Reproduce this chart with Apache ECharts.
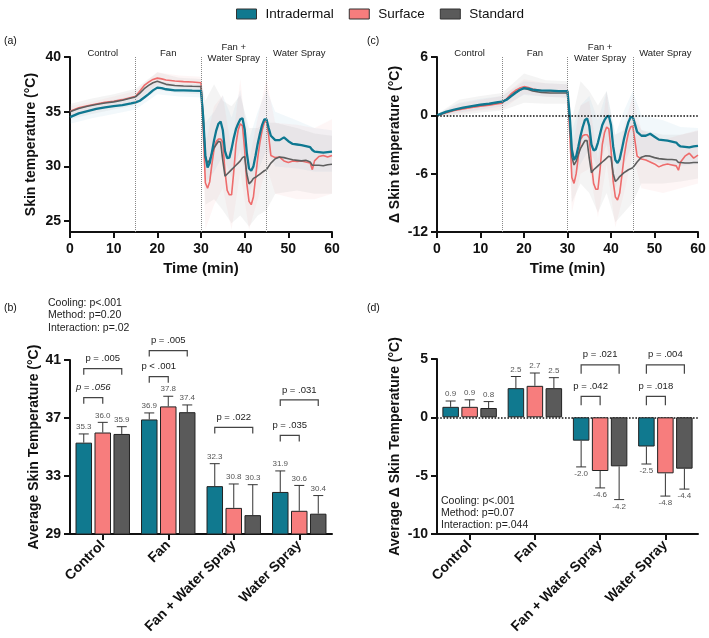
<!DOCTYPE html>
<html>
<head>
<meta charset="utf-8">
<title>Skin temperature</title>
<script src="https://cdn.jsdelivr.net/npm/echarts@6/dist/echarts.min.js"></script>
<style>
  html, body { margin: 0; padding: 0; background: #fff; }
  #chart { width: 709px; height: 638px; }
</style>
</head>
<body>
<div id="chart"></div>
<script>
// ---- data ----
const methods = ['Intradermal', 'Surface', 'Standard']
const barColors = ['#10798F', '#F77D7D', '#5A5A5A']
const lineColors = ['#0F7891', '#EE6C6C', '#5E5E5E']
const bandColors = ['rgba(110,175,210,0.09)', 'rgba(245,130,130,0.07)', 'rgba(150,150,150,0.10)']
const conditions = ['Control', 'Fan', 'Fan + Water Spray', 'Water Spray']
const phaseNames = ['Control', 'Fan', 'Fan +\nWater Spray', 'Water Spray']
const phaseMid = [7.5, 22.5, 37.5, 52.5]
const phaseBounds = [15, 30, 45]

// time (min) for the mean lines
const time = [0, 2, 4, 6, 8, 10, 12, 14, 15, 16, 17, 18, 19, 20, 21, 22, 24, 26, 28, 30,
  30.5, 31, 31.5, 32, 32.5, 33, 33.5, 34, 34.5, 35, 35.5, 36, 36.5, 37, 37.5, 38, 38.5, 39, 39.5, 40,
  40.5, 41, 41.5, 42, 42.5, 43, 43.5, 44, 44.5, 45, 45.5, 46, 47, 48, 49, 50, 51, 52, 53, 54, 55, 55.5,
  56, 57, 58, 59, 60]

// (a) skin temperature, °C
const skinIntradermal = [34.5, 34.85, 35.05, 35.25, 35.4, 35.5, 35.6, 35.75, 35.85, 36.0, 36.3, 36.6, 36.95, 37.2, 37.15, 37.05, 36.95, 36.95, 36.92, 36.9,
  34.5, 31.0, 29.9, 30.3, 31.3, 32.4, 33.3, 33.9, 34.1, 33.3, 31.4, 30.75, 30.8, 31.6, 32.6, 33.4, 33.9, 34.3, 34.4, 33.4,
  31.2, 29.8, 29.6, 30.0, 31.0, 32.1, 33.0, 33.8, 34.3, 34.3, 33.5, 32.8, 32.4, 32.4, 32.65, 32.3, 32.05, 32.0, 31.95, 31.85, 31.75, 31.5,
  31.35, 31.3, 31.25, 31.3, 31.35]
const skinSurface = [35.05, 35.35, 35.55, 35.7, 35.85, 35.95, 36.1, 36.3, 36.4, 36.9, 37.4, 37.7, 37.95, 38.07, 38.0, 37.9, 37.8, 37.75, 37.72, 37.65,
  33.5, 28.5, 28.0, 28.6, 30.2, 31.6, 32.3, 32.5, 32.5, 32.2, 29.5, 27.8, 27.4, 27.4, 29.5, 32.0, 33.3, 33.9, 33.7, 31.5,
  28.4, 26.8, 26.5, 27.2, 29.0, 30.8, 32.2, 33.3, 34.0, 34.2, 32.8, 31.0, 30.8, 30.85, 30.5, 30.35, 30.5, 30.45, 30.5, 30.4, 30.3, 29.7,
  30.5, 30.9, 31.0, 30.85, 31.0]
const skinStandard = [35.0, 35.3, 35.5, 35.65, 35.8, 35.9, 36.05, 36.25, 36.35, 36.7, 37.1, 37.4, 37.65, 37.78, 37.65, 37.5, 37.4, 37.35, 37.32, 37.3,
  34.5, 30.8, 30.3, 30.6, 31.2, 31.7, 32.0, 32.3, 32.2, 30.5, 29.1, 29.3, 29.5, 29.7, 29.9, 30.1, 30.3, 30.5, 30.8, 30.9,
  29.3, 28.4, 28.6, 28.9, 29.0, 29.15, 29.3, 29.45, 29.6, 29.7, 30.0, 30.3, 30.7, 30.85, 30.8, 30.7, 30.6, 30.55, 30.5, 30.55, 30.4, 30.1,
  30.1, 30.1, 30.05, 30.15, 30.2]

// (c) change in skin temperature, °C
const deltaIntradermal = [0, 0.35, 0.6, 0.8, 0.95, 1.1, 1.2, 1.35, 1.4, 1.6, 1.95, 2.3, 2.6, 2.8, 2.75, 2.65, 2.55, 2.55, 2.5, 2.5,
  0.0, -3.5, -4.6, -4.2, -3.2, -2.1, -1.2, -0.5, -0.3, -1.1, -3.0, -3.6, -3.5, -2.8, -1.9, -1.0, -0.5, -0.15, -0.05, -1.0,
  -3.2, -4.6, -4.9, -4.5, -3.5, -2.4, -1.5, -0.7, -0.2, -0.15, -0.9, -1.7, -2.1, -2.1, -1.9, -2.2, -2.5, -2.55, -2.6, -2.7, -2.8, -3.05,
  -3.2, -3.25, -3.3, -3.2, -3.15]
const deltaSurface = [0, 0.25, 0.5, 0.65, 0.8, 0.95, 1.05, 1.2, 1.25, 1.7, 2.2, 2.55, 2.8, 2.95, 2.85, 2.7, 2.55, 2.5, 2.5, 2.45,
  -1.5, -6.4, -7.0, -6.0, -4.2, -2.5, -2.1, -2.0, -2.0, -2.3, -5.0, -7.0, -7.6, -7.6, -5.5, -3.0, -1.8, -1.2, -1.4, -3.5,
  -6.8, -8.4, -8.7, -8.0, -6.2, -4.3, -2.9, -1.8, -1.2, -1.1, -2.6, -4.2, -4.5, -4.6, -4.8, -5.0, -5.3, -5.1, -5.0, -5.1, -5.2, -5.65,
  -4.8, -4.2, -3.9, -4.4, -4.1]
const deltaStandard = [0, 0.3, 0.55, 0.75, 0.9, 1.05, 1.15, 1.3, 1.4, 1.65, 2.0, 2.35, 2.6, 2.78, 2.65, 2.5, 2.35, 2.3, 2.3, 2.3,
  -0.5, -4.3, -5.1, -4.7, -4.0, -3.4, -3.0, -2.6, -2.6, -4.4, -5.9, -5.6, -5.4, -5.2, -5.0, -4.8, -4.6, -4.4, -4.2, -4.3,
  -6.0, -6.8, -6.6, -6.3, -6.1, -5.9, -5.75, -5.6, -5.5, -5.4, -5.1, -4.8, -4.3, -4.15, -4.2, -4.35, -4.45, -4.5, -4.55, -4.55, -4.6, -4.85,
  -4.85, -4.9, -4.9, -4.85, -4.85]

// shaded SD bands (coarser time grid)
const bandTime = [0, 5, 10, 15, 20, 25, 30, 31, 33, 35, 37, 39, 41, 43, 45, 47, 52, 56, 60]
const skinIntradermalLo = [33.9, 34.4, 34.8, 35.2, 36.6, 36.4, 36.3, 28.5, 29.5, 31.0, 29.0, 31.5, 27.5, 29.5, 31.5, 30.0, 29.8, 29.5, 29.5]
const skinIntradermalHi = [35.1, 35.7, 36.1, 36.5, 37.8, 37.5, 37.5, 34.0, 35.0, 36.5, 34.5, 37.0, 32.5, 35.0, 37.0, 35.0, 34.2, 33.5, 33.3]
const skinSurfaceLo = [34.6, 35.0, 35.4, 35.9, 37.5, 37.2, 37.1, 24.2, 26.5, 28.0, 24.2, 29.5, 24.2, 27.0, 30.0, 27.5, 27.0, 27.0, 27.5]
const skinSurfaceHi = [35.5, 35.9, 36.4, 36.9, 38.6, 38.3, 38.2, 32.0, 35.5, 36.5, 31.5, 38.0, 30.5, 34.5, 38.0, 34.0, 33.8, 33.5, 34.3]
const skinStandardLo = [34.3, 34.8, 35.2, 35.6, 37.0, 36.7, 36.6, 26.5, 27.0, 26.0, 24.8, 25.5, 24.5, 25.5, 26.0, 27.5, 27.8, 27.5, 27.5]
const skinStandardHi = [35.7, 36.2, 36.6, 37.1, 38.6, 38.1, 38.0, 36.0, 37.5, 36.0, 35.5, 36.5, 33.5, 33.5, 34.0, 34.0, 33.5, 33.0, 32.8]
const deltaIntradermalLo = [-0.1, 0.3, 0.6, 0.9, 2.1, 1.9, 1.8, -7.0, -5.0, -3.5, -5.5, -3.0, -7.5, -5.0, -3.0, -4.5, -5.0, -5.2, -5.0]
const deltaIntradermalHi = [0.1, 1.3, 1.7, 2.0, 3.5, 3.3, 3.2, -1.5, 1.0, 2.0, -0.5, 2.5, -2.0, 0.5, 2.5, 0.0, -0.5, -1.2, -1.3]
const deltaSurfaceLo = [-0.1, 0.2, 0.5, 0.6, 2.2, 1.9, 1.8, -10.0, -6.0, -5.5, -10.5, -5.0, -11.5, -8.0, -4.0, -7.5, -8.0, -7.5, -7.0]
const deltaSurfaceHi = [0.1, 1.2, 1.6, 2.0, 3.7, 3.3, 3.2, -3.5, 1.0, 1.5, -4.5, 2.5, -6.0, -1.0, 2.0, -1.5, -2.5, -2.0, -1.5]
const deltaStandardLo = [-0.1, 0.0, 0.3, 0.5, 1.3, 1.2, 1.2, -9.0, -7.0, -8.0, -10.0, -8.0, -11.0, -10.0, -9.0, -7.0, -7.0, -6.8, -6.5]
const deltaStandardHi = [0.1, 1.6, 2.0, 2.3, 4.3, 3.6, 3.5, -0.5, 3.5, 2.5, 1.0, 2.5, -2.0, -1.5, 0.0, -1.5, -2.0, -2.0, -1.6]

// (b) average skin temperature and SD
const avgIntradermal = [35.3, 36.9, 32.3, 31.9]
const avgSurface = [36.0, 37.8, 30.8, 30.6]
const avgStandard = [35.9, 37.4, 30.3, 30.4]
const sdIntradermal = [0.6, 0.45, 1.55, 1.45]
const sdSurface = [0.7, 0.7, 1.65, 1.75]
const sdStandard = [0.5, 0.5, 2.1, 1.25]

// (d) average change and SD
const avgDeltaIntradermal = [0.9, 2.5, -2.0, -2.5]
const avgDeltaSurface = [0.9, 2.7, -4.6, -4.8]
const avgDeltaStandard = [0.8, 2.5, -4.2, -4.4]
const sdDeltaIntradermal = [0.5, 1.0, 2.25, 1.5]
const sdDeltaSurface = [0.6, 1.1, 1.45, 1.95]
const sdDeltaStandard = [0.55, 0.9, 2.85, 1.75]

// pairwise comparisons: category, bar from/to, bracket height (axis units), label
const bracketsB = [
  { cat: 0, from: 0, to: 1, y: 38.4, p: 'p = .056', italic: true },
  { cat: 0, from: 0, to: 2, y: 40.4, p: 'p = .005' },
  { cat: 1, from: 0, to: 1, y: 39.85, p: 'p < .001' },
  { cat: 1, from: 0, to: 2, y: 41.65, p: 'p = .005' },
  { cat: 2, from: 0, to: 2, y: 36.35, p: 'p = .022' },
  { cat: 3, from: 0, to: 1, y: 35.8, p: 'p = .035' },
  { cat: 3, from: 0, to: 2, y: 38.25, p: 'p = .031' }
]
const bracketsD = [
  { cat: 2, from: 0, to: 1, y: 1.8, p: 'p = .042' },
  { cat: 2, from: 0, to: 2, y: 4.5, p: 'p = .021' },
  { cat: 3, from: 0, to: 1, y: 1.8, p: 'p = .018' },
  { cat: 3, from: 0, to: 2, y: 4.5, p: 'p = .004' }
]
const statsB = 'Cooling: p<.001\nMethod: p=0.20\nInteraction: p=.02'
const statsD = 'Cooling: p<.001\nMethod: p=0.07\nInteraction: p=.044'

// ---- chart ----
const FONT = '"Liberation Sans", Arial, Helvetica, sans-serif'
const INK = '#111'
const barOffset = [-19, 0, 19]

const axisLine = { show: true, onZero: false, lineStyle: { color: INK, width: 2 } }
const axisTick = { show: true, inside: false, length: 6, lineStyle: { color: INK, width: 2 } }
const tickLabel = { color: INK, fontSize: 14, fontWeight: 'bold', fontFamily: FONT, margin: 9 }
const axisName = { color: INK, fontSize: 14, fontWeight: 'bold', fontFamily: FONT }

function lineSeries (gi, name, values, color, width) {
  return {
    type: 'line', name, xAxisIndex: gi, yAxisIndex: gi,
    data: time.map((t, i) => [t, values[i]]),
    symbol: 'none', silent: true, z: 3,
    lineStyle: { color, width }, itemStyle: { color }
  }
}

function bandSeries (gi, lo, hi, color) {
  return {
    type: 'custom', xAxisIndex: gi, yAxisIndex: gi, silent: true, z: 1,
    data: bandTime.map((t, i) => [t, lo[i], hi[i]]),
    encode: { x: 0, y: [1, 2] },
    renderItem (params, api) {
      if (params.dataIndex !== 0) return null
      const pts = bandTime.map((t, i) => api.coord([t, hi[i]]))
      for (let i = bandTime.length - 1; i >= 0; i--) pts.push(api.coord([bandTime[i], lo[i]]))
      return { type: 'polygon', shape: { points: pts }, style: { fill: color } }
    }
  }
}

function phaseSeries (gi, top) {
  return {
    type: 'custom', xAxisIndex: gi, yAxisIndex: gi, silent: true, z: 4,
    data: phaseMid.map(t => [t, top]),
    encode: { x: 0, y: 1 },
    renderItem (params, api) {
      const p = api.coord([api.value(0), api.value(1)])
      return {
        type: 'text', x: p[0], y: p[1] - 4,
        style: { text: phaseNames[params.dataIndex], fill: '#222', fontSize: 9.5, fontFamily: FONT, align: 'center', verticalAlign: 'middle', lineHeight: 11 }
      }
    },
    markLine: {
      symbol: 'none', silent: true, label: { show: false },
      lineStyle: { type: 'dotted', color: '#888', width: 1 },
      data: phaseBounds.map(x => ({ xAxis: x }))
    }
  }
}

function barSeries (gi, m, values) {
  return {
    type: 'bar', name: methods[m], xAxisIndex: gi, yAxisIndex: gi, data: values,
    barWidth: 16.5, barGap: '15%', silent: true, z: 2,
    itemStyle: { color: barColors[m], borderColor: '#222', borderWidth: 1 }
  }
}

function errorSeries (gi, m, means, sds) {
  return {
    type: 'custom', xAxisIndex: gi, yAxisIndex: gi, silent: true, z: 5,
    data: means.map((v, i) => [i, v, sds[i]]),
    encode: { x: 0, y: 1 },
    renderItem (params, api) {
      const c = api.value(0); const v = api.value(1); const sd = api.value(2)
      const dir = v >= 0 ? 1 : -1
      const p0 = api.coord([c, v])
      const p1 = api.coord([c, v + dir * sd])
      const x = p0[0] + barOffset[m]
      const stroke = { stroke: '#333', lineWidth: 1 }
      return {
        type: 'group',
        children: [
          { type: 'line', shape: { x1: x, y1: p0[1], x2: x, y2: p1[1] }, style: stroke },
          { type: 'line', shape: { x1: x - 5, y1: p1[1], x2: x + 5, y2: p1[1] }, style: stroke },
          {
            type: 'text', x, y: p1[1] - dir * 3,
            style: { text: v.toFixed(1), fill: '#555', fontSize: 8, fontFamily: FONT, align: 'center', verticalAlign: dir > 0 ? 'bottom' : 'top' }
          }
        ]
      }
    }
  }
}

function bracketSeries (gi, list, leg) {
  return {
    type: 'custom', xAxisIndex: gi, yAxisIndex: gi, silent: true, z: 6,
    data: list.map(b => [b.cat, b.y]),
    encode: { x: 0, y: 1 },
    renderItem (params, api) {
      const b = list[params.dataIndex]
      const p = api.coord([b.cat, b.y])
      const xa = p[0] + barOffset[b.from]
      const xb = p[0] + barOffset[b.to]
      return {
        type: 'group',
        children: [
          {
            type: 'polyline',
            shape: { points: [[xa, p[1] + leg], [xa, p[1]], [xb, p[1]], [xb, p[1] + leg]] },
            style: { stroke: '#444', lineWidth: 1.2, fill: null }
          },
          {
            type: 'text', x: (xa + xb) / 2, y: p[1] - 5,
            style: { text: b.p, fill: '#222', fontSize: 9.5, fontFamily: FONT, fontStyle: b.italic ? 'italic' : 'normal', align: 'center', verticalAlign: 'bottom' }
          }
        ]
      }
    }
  }
}

const series = [
  // (a)
  bandSeries(0, skinIntradermalLo, skinIntradermalHi, bandColors[0]),
  bandSeries(0, skinSurfaceLo, skinSurfaceHi, bandColors[1]),
  bandSeries(0, skinStandardLo, skinStandardHi, bandColors[2]),
  phaseSeries(0, 40),
  lineSeries(0, methods[1], skinSurface, lineColors[1], 1.6),
  lineSeries(0, methods[2], skinStandard, lineColors[2], 1.6),
  lineSeries(0, methods[0], skinIntradermal, lineColors[0], 2.3),
  // (c)
  bandSeries(1, deltaIntradermalLo, deltaIntradermalHi, bandColors[0]),
  bandSeries(1, deltaSurfaceLo, deltaSurfaceHi, bandColors[1]),
  bandSeries(1, deltaStandardLo, deltaStandardHi, bandColors[2]),
  phaseSeries(1, 6),
  Object.assign(lineSeries(1, methods[1], deltaSurface, lineColors[1], 1.6), {
    markLine: {
      symbol: 'none', silent: true, label: { show: false },
      lineStyle: { type: 'dotted', color: '#111', width: 1.6 },
      data: [{ yAxis: 0 }]
    }
  }),
  lineSeries(1, methods[2], deltaStandard, lineColors[2], 1.6),
  lineSeries(1, methods[0], deltaIntradermal, lineColors[0], 2.3),
  // (b)
  barSeries(2, 0, avgIntradermal),
  barSeries(2, 1, avgSurface),
  barSeries(2, 2, avgStandard),
  errorSeries(2, 0, avgIntradermal, sdIntradermal),
  errorSeries(2, 1, avgSurface, sdSurface),
  errorSeries(2, 2, avgStandard, sdStandard),
  bracketSeries(2, bracketsB, 6),
  // (d)
  Object.assign(barSeries(3, 0, avgDeltaIntradermal), {
    markLine: {
      symbol: 'none', silent: true, label: { show: false }, z: 1,
      lineStyle: { type: 'dotted', color: '#111', width: 1.6 },
      data: [{ yAxis: 0 }]
    }
  }),
  barSeries(3, 1, avgDeltaSurface),
  barSeries(3, 2, avgDeltaStandard),
  errorSeries(3, 0, avgDeltaIntradermal, sdDeltaIntradermal),
  errorSeries(3, 1, avgDeltaSurface, sdDeltaSurface),
  errorSeries(3, 2, avgDeltaStandard, sdDeltaStandard),
  bracketSeries(3, bracketsD, 9)
]

const timeAxis = gi => ({
  gridIndex: gi, type: 'value', min: 0, max: 60, interval: 10,
  axisLine, axisTick, axisLabel: { ...tickLabel, margin: 10 }, splitLine: { show: false },
  name: 'Time (min)', nameLocation: 'middle', nameGap: 29, nameTextStyle: { ...axisName, fontSize: 15 }
})
const catAxis = gi => ({
  gridIndex: gi, type: 'category', data: conditions,
  axisLine, axisTick: { ...axisTick, alignWithLabel: true },
  axisLabel: { ...tickLabel, rotate: 45, interval: 0, margin: 9 }, splitLine: { show: false }
})

const option = {
  animation: false,
  textStyle: { fontFamily: FONT },
  legend: {
    left: 231, top: 2, itemWidth: 20, itemHeight: 10, itemGap: 15, selectedMode: false,
    data: methods.map((n, i) => ({ name: n, icon: 'rect', itemStyle: { color: barColors[i], borderColor: '#333', borderWidth: 1 } })),
    textStyle: { fontSize: 13.5, color: INK, fontFamily: FONT, padding: [0, 0, 0, 4] }
  },
  grid: [
    { left: 70, top: 57, width: 262, height: 175 },
    { left: 437, top: 57, width: 261, height: 175 },
    { left: 70, top: 360, width: 262, height: 174 },
    { left: 437, top: 359, width: 261, height: 175 }
  ],
  xAxis: [timeAxis(0), timeAxis(1), catAxis(2), catAxis(3)],
  yAxis: [
    {
      gridIndex: 0, type: 'value', min: 24, max: 40,
      axisLine, axisTick: { ...axisTick, customValues: [25, 30, 35, 40] },
      axisLabel: { ...tickLabel, customValues: [25, 30, 35, 40] }, splitLine: { show: false },
      name: 'Skin temperature (°C)', nameLocation: 'middle', nameGap: 32, nameTextStyle: axisName
    },
    {
      gridIndex: 1, type: 'value', min: -12, max: 6, interval: 6,
      axisLine, axisTick, axisLabel: tickLabel, splitLine: { show: false },
      name: 'Δ Skin temperature (°C)', nameLocation: 'middle', nameGap: 35, nameTextStyle: axisName
    },
    {
      gridIndex: 2, type: 'value', min: 29, max: 41, interval: 4,
      axisLine, axisTick, axisLabel: tickLabel, splitLine: { show: false },
      name: 'Average Skin Temperature (°C)', nameLocation: 'middle', nameGap: 29, nameTextStyle: axisName
    },
    {
      gridIndex: 3, type: 'value', min: -10, max: 5, interval: 5,
      axisLine, axisTick, axisLabel: tickLabel, splitLine: { show: false },
      name: 'Average Δ Skin Temperature (°C)', nameLocation: 'middle', nameGap: 35, nameTextStyle: axisName
    }
  ],
  graphic: [
    { type: 'text', left: 4, top: 36, style: { text: '(a)', fontSize: 10.5, fontFamily: FONT, fill: INK } },
    { type: 'text', left: 367, top: 36, style: { text: '(c)', fontSize: 10.5, fontFamily: FONT, fill: INK } },
    { type: 'text', left: 4, top: 303, style: { text: '(b)', fontSize: 10.5, fontFamily: FONT, fill: INK } },
    { type: 'text', left: 367, top: 303, style: { text: '(d)', fontSize: 10.5, fontFamily: FONT, fill: INK } },
    { type: 'text', left: 48, top: 297, style: { text: statsB, fontSize: 10.5, lineHeight: 12.3, fontFamily: FONT, fill: '#222' } },
    { type: 'text', left: 441, top: 495, style: { text: statsD, fontSize: 10.5, lineHeight: 12, fontFamily: FONT, fill: '#222' } }
  ],
  series
}

const chart = echarts.init(document.getElementById('chart'))
chart.setOption(option)
window.addEventListener('resize', () => {
  chart.resize()
})
</script>
</body>
</html>
